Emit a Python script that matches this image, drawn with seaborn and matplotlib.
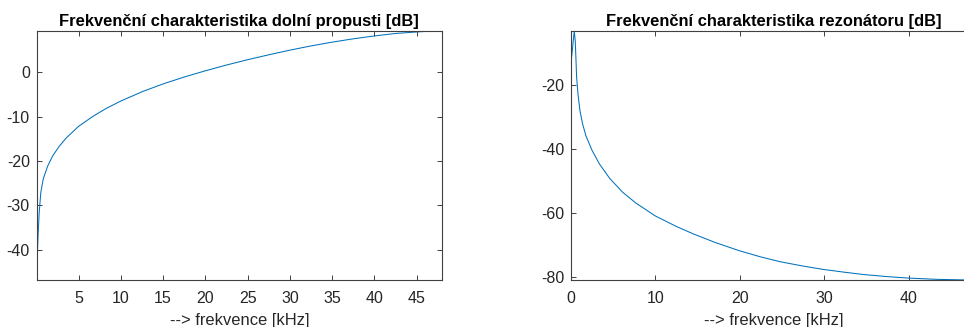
import numpy as np
import pandas as pd
import matplotlib
matplotlib.use("Agg")
import matplotlib.pyplot as plt
import seaborn as sns

# values (kHz / dB)
lp_freq = [0.047, 0.1, 0.22, 0.34, 0.53, 0.81, 1.33, 1.92, 2.71, 3.5, 5.0, 6.66, 8.24,
           10.0, 12.6, 15.0, 17.5, 20.0, 22.5, 25.0, 27.5, 30.0, 32.5, 35.0, 37.5,
           40.0, 42.5, 45.0, 46.5, 48.0]
lp_db = [-46.8, -42.1, -36.1, -31.6, -27.1, -24.1, -21.2, -18.9, -16.7, -14.9, -12.2, -10.0, -8.2,
         -6.5, -4.35, -2.65, -1.1, 0.3, 1.6, 2.8, 3.9, 4.95, 5.9, 6.75, 7.5,
         8.15, 8.7, 9.05, 9.2, 9.26]

rz_freq = [0.0, 0.12, 0.27, 0.39, 0.51, 0.67, 0.83, 1.07, 1.38, 1.78, 2.5, 3.36, 4.6, 6.13,
           7.71, 10.0, 12.5, 14.5, 17.0, 20.0, 22.5, 24.8, 27.5, 29.9, 32.5, 34.7, 37.5,
           40.0, 43.4, 46.6, 48.0]
rz_db = [-12.5, -10.4, -6.2, -3.2, -6.5, -17.7, -22.9, -28.2, -32.3, -36.0, -40.5, -44.7, -49.3, -53.6,
         -57.0, -61.0, -64.3, -66.6, -69.2, -71.9, -73.8, -75.3, -76.65, -77.7, -78.6, -79.3, -79.95,
         -80.4, -80.8, -80.97, -81.0]

lp_xticks = [5, 10, 15, 20, 25, 30, 35, 40, 45]
lp_yticks = [-40, -30, -20, -10, 0]
rz_xticks = [0, 10, 20, 30, 40]
rz_yticks = [-80, -60, -40, -20]

titles = ["Frekvenční charakteristika dolní propusti [dB]",
          "Frekvenční charakteristika rezonátoru [dB]"]
xlabel = "--> frekvence [kHz]"

sns.set_style("ticks")
plt.rcParams['font.family'] = ['Liberation Sans', 'DejaVu Sans']
plt.rcParams['axes.unicode_minus'] = False

line_col = "#0072BD"
axis_col = "#404040"
text_col = "#262626"

fig = plt.figure(figsize=(9.64, 3.27), dpi=100)
ax1 = fig.add_axes([0.0381, 0.1437, 0.4204, 0.7615])
ax2 = fig.add_axes([0.5923, 0.1437, 0.4204, 0.7615])

df_lp = pd.DataFrame({"f": lp_freq, "db": lp_db})
df_rz = pd.DataFrame({"f": rz_freq, "db": rz_db})

sns.lineplot(data=df_lp, x="f", y="db", ax=ax1, color=line_col, linewidth=0.75,
             estimator=None, sort=False)
sns.lineplot(data=df_rz, x="f", y="db", ax=ax2, color=line_col, linewidth=0.75,
             estimator=None, sort=False)

setup = [
    (ax1, titles[0], (lp_freq[0], lp_freq[-1]), (min(lp_db), max(lp_db)), lp_xticks, lp_yticks),
    (ax2, titles[1], (rz_freq[0], rz_freq[-1]), (min(rz_db), max(rz_db)), rz_xticks, rz_yticks),
]
for ax, title, xl, yl, xt, yt in setup:
    ax.set_xlim(*xl)
    ax.set_ylim(*yl)
    ax.set_xticks(xt)
    ax.set_yticks(yt)
    ax.set_title(title, fontsize=11.9, fontweight="bold", color="black", pad=3.5)
    ax.set_xlabel(xlabel, fontsize=11.9, color=text_col, labelpad=5)
    ax.set_ylabel("")
    for sp in ax.spines.values():
        sp.set_visible(True)
        sp.set_color(axis_col)
        sp.set_linewidth(0.8)
    ax.tick_params(direction="in", length=3.5, width=0.7, color=axis_col,
                   labelsize=11.5, labelcolor=text_col,
                   top=True, right=True, pad=5)
    ax.tick_params(axis="x", pad=8)

fig.savefig("out.png", dpi=100)
